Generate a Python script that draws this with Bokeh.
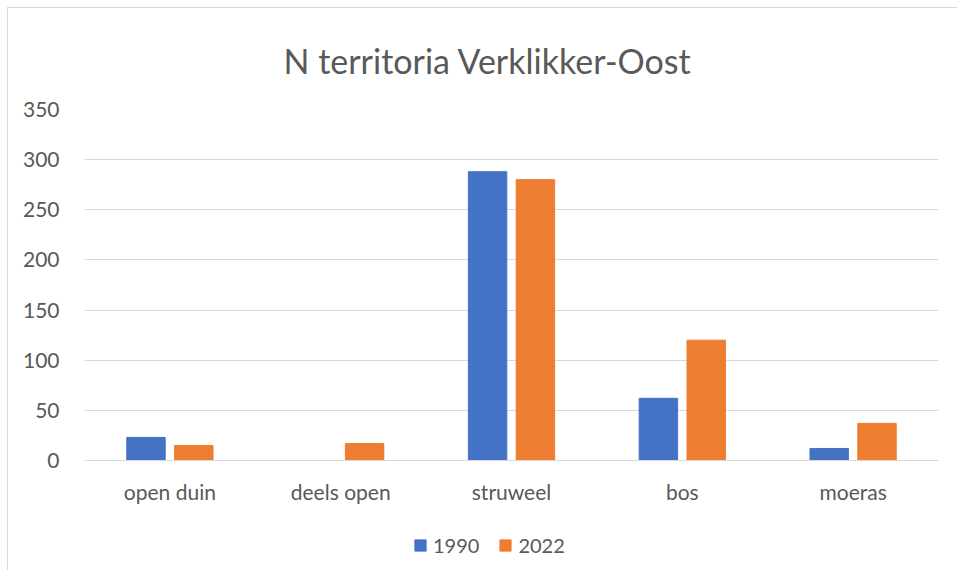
from bokeh.plotting import figure
from bokeh.layouts import column
from bokeh.models import ColumnDataSource, FactorRange, Legend, LegendItem, SingleIntervalTicker
from bokeh.transform import dodge
from bokeh.embed import file_html
from bokeh.resources import INLINE

categories = ["open duin", "deels open", "struweel", "bos", "moeras"]
values_1990 = [23, 0, 288, 62, 12]
values_2022 = [15, 17, 280, 120, 37]
series_names = ["1990", "2022"]
series_colors = ["#4472C4", "#ED7D31"]
title_text = "N territoria Verklikker-Oost"

FONT = "Lato"
TXT = "#595959"

src = ColumnDataSource(data=dict(cat=categories, v1990=values_1990, v2022=values_2022))

p = figure(x_range=FactorRange(*categories, range_padding=0), y_range=(0, 350),
           width=949, height=512, output_backend="svg", toolbar_location=None,
           min_border_left=76, min_border_right=19, min_border_top=98, min_border_bottom=60)
p.outline_line_color = None
p.background_fill_color = "white"
p.border_fill_color = "white"

p.vbar(x=dodge("cat", -0.14, range=p.x_range), top="v1990", width=0.225, source=src,
       fill_color=series_colors[0], line_color=series_colors[0])
p.vbar(x=dodge("cat", 0.14, range=p.x_range), top="v2022", width=0.225, source=src,
       fill_color=series_colors[1], line_color=series_colors[1])

p.title.text = title_text
p.title.align = "left"
p.title.offset = 199
p.title.text_font = FONT
p.title.text_font_size = "34px"
p.title.text_color = TXT
p.title.text_font_style = "normal"
p.title.standoff = 58

p.xgrid.grid_line_color = None
p.ygrid.grid_line_color = "#d9d9d9"
p.ygrid.grid_line_width = 1
p.yaxis.ticker = SingleIntervalTicker(interval=50)
p.yaxis.axis_line_color = None
p.yaxis.major_tick_line_color = None
p.yaxis.minor_tick_line_color = None
p.yaxis.major_label_standoff = 19
p.xaxis.axis_line_color = "#d9d9d9"
p.xaxis.major_tick_line_color = None
p.xaxis.minor_tick_line_color = None
p.xaxis.major_label_standoff = 12
for ax in (p.xaxis, p.yaxis):
    ax.major_label_text_font = FONT
    ax.major_label_text_font_size = "21px"
    ax.major_label_text_color = TXT

# legend strip below the chart
p2 = figure(x_range=(0, 1), y_range=(0, 1), width=949, height=50, output_backend="svg",
            toolbar_location=None, min_border=0)
p2.axis.visible = False
p2.grid.grid_line_color = None
p2.outline_line_color = None
p2.border_fill_color = "white"
l1 = p2.vbar(x=[-5], top=[0], width=0.1, fill_color=series_colors[0], line_color=series_colors[0])
l2 = p2.vbar(x=[-5], top=[0], width=0.1, fill_color=series_colors[1], line_color=series_colors[1])
legend = Legend(items=[LegendItem(label=series_names[0], renderers=[l1]),
                       LegendItem(label=series_names[1], renderers=[l2])],
                orientation="horizontal", location=(329, 13),
                label_text_font=FONT, label_text_font_size="20px", label_text_color=TXT,
                glyph_width=14, glyph_height=14, spacing=19, label_standoff=6,
                border_line_color=None, background_fill_alpha=0, padding=0, margin=0)
p2.add_layout(legend)

layout = column(p, p2, spacing=0, margin=(7, 0, 0, 7),
                styles={"border-left": "1px solid #d9d9d9", "border-top": "1px solid #d9d9d9"})
open("out.html", "w").write(file_html(layout, INLINE))
